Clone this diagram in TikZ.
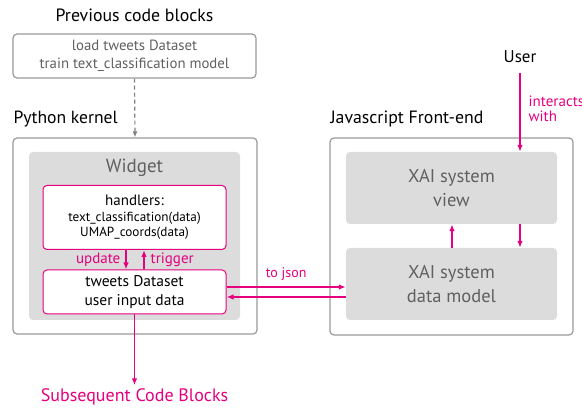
\documentclass[tikz,border=0pt]{standalone}
\usepackage{fontspec}
\setmainfont{PT Sans}
\usepackage{xcolor}
\usetikzlibrary{arrows.meta}

\definecolor{xpink}{HTML}{E6007E}
\definecolor{boxgray}{HTML}{DCDCDC}
\definecolor{linegray}{HTML}{9A9A9A}
\definecolor{textgray}{HTML}{606060}

\tikzset{
  frame/.style={draw=linegray, line width=1.2pt, rounded corners=4pt},
  graybox/.style={fill=boxgray, rounded corners=4pt, text=textgray, align=center},
  pinkbox/.style={draw=xpink, fill=white, line width=1pt, rounded corners=4pt, align=center},
  flow/.style={-{Latex[length=7pt,width=5.5pt]}, xpink, line width=1.4pt},
  pinklabel/.style={text=xpink, font=\fontsize{15}{16}\selectfont},
}

\begin{document}
\begin{tikzpicture}[x=1pt,y=-1pt]
\useasboundingbox (0,0) rectangle (582,409);

% previous blocks
\node (prevtitle) at (134.5,15) {\fontsize{17.8}{20}\selectfont Previous code blocks};
\node[frame, minimum width=243pt, minimum height=44pt, align=center, text=textgray,
  font=\fontsize{14.8}{18}\selectfont] (prev) at (134.5,56) {load tweets Dataset\\train text\_classification model};

% python kernel
\node[anchor=west] (pytitle) at (10,119) {\fontsize{17.6}{20}\selectfont Python kernel};
\node[frame, minimum width=244pt, minimum height=196pt] (kernel) at (135,236) {};
\node[graybox, minimum width=211pt, minimum height=168pt] (widget) at (134.5,236) {};
\node[text=textgray] (widgettitle) at (134.5,168) {\fontsize{19}{21}\selectfont Widget};
\node[pinkbox, minimum width=183pt, minimum height=64pt, font=\fontsize{13.2}{15.5}\selectfont] (handlers) at (134.5,217.5)
  {{\fontsize{15}{17}\selectfont handlers:}\\text\_classification(data)\\UMAP\_coords(data)};
\node[pinkbox, minimum width=183pt, minimum height=44pt, font=\fontsize{15.5}{19}\selectfont] (tweets) at (134.5,292)
  {tweets Dataset\\user input data};
\node[text=xpink, font=\fontsize{18}{20}\selectfont] (next) at (134.5,397) {Subsequent Code Blocks};

% javascript front-end
\node[anchor=west] (jstitle) at (327,119) {\fontsize{17.8}{20}\selectfont Javascript Front-end};
\node[frame, minimum width=243pt, minimum height=197pt] (front) at (451.5,236.5) {};
\node[graybox, minimum width=211pt, minimum height=72pt, font=\fontsize{18.5}{24}\selectfont] (view) at (451.5,188) {XAI system\\view};
\node[graybox, minimum width=211pt, minimum height=72pt, font=\fontsize{18.5}{24}\selectfont] (model) at (451.5,284) {XAI system\\data model};
\node (user) at (520,57) {\fontsize{17}{19}\selectfont User};

% connectors
\draw[-{Latex[length=6pt,width=5pt]}, color=gray, line width=1.2pt, dash pattern=on 4pt off 3pt] (prev.south) -- (kernel.north);
\draw[flow] ([xshift=-8.5pt]handlers.south) -- ([xshift=-8.5pt]tweets.north)
  node[pinklabel, midway, left, inner sep=5pt] {update};
\draw[flow] ([xshift=9.5pt]tweets.north) -- ([xshift=9.5pt]handlers.south)
  node[pinklabel, midway, right, inner sep=6pt] {trigger};
\draw[flow] ([yshift=5pt]tweets.east) -- ([yshift=5pt]tweets.east -| model.west)
  node[pinklabel, midway, above, yshift=2pt, font=\fontsize{14}{15}\selectfont] {to json};
\draw[flow] ([yshift=-5pt]tweets.east -| model.west) -- ([yshift=-5pt]tweets.east);
\draw[flow] (tweets.south) -- (next.north);
\draw[flow] ([xshift=0.5pt]model.north) -- ([xshift=0.5pt]view.south);
\draw[flow] ([xshift=68.5pt]view.south) -- ([xshift=68.5pt]model.north);
\draw[flow, shorten <=6pt] (user.south) -- (user |- view.north)
  node[pinklabel, pos=0.5, right, align=left, inner sep=8pt, font=\fontsize{15}{15}\selectfont] {interacts\\with};
\end{tikzpicture}
\end{document}
